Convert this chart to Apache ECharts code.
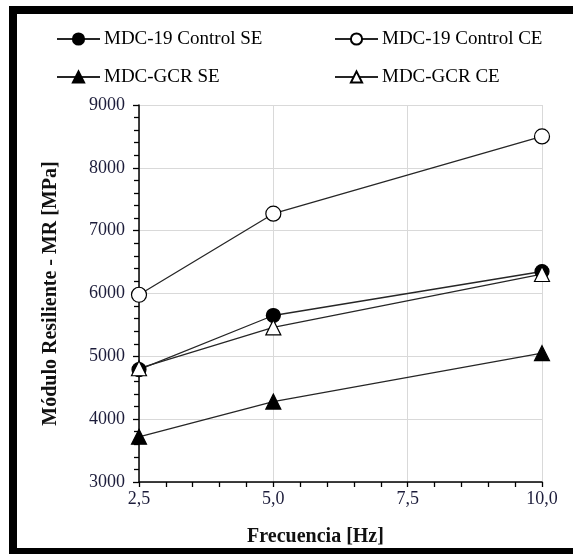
<!DOCTYPE html>
<html>
<head>
    <meta charset="utf-8">
    <title>Modulo resiliente vs frecuencia</title>
    <script src="https://cdn.jsdelivr.net/npm/echarts@6/dist/echarts.min.js"></script>
    <style>
        html, body { margin: 0; padding: 0; background: #fff; }
        #main { width: 573px; height: 554px; }
    </style>
</head>
<body>
<div id="main"></div>
<script>
    // datos
    var frecuencia = [2.5, 5.0, 10.0];
    var controlSE = [4790, 5650, 6350];
    var controlCE = [5980, 7270, 8500];
    var gcrSE = [3720, 4280, 5050];
    var gcrCE = [4810, 5460, 6310];

    var serif = 'Liberation Serif';

    function pares(vals) {
        return frecuencia.map(function (f, i) { return [f, vals[i]]; });
    }

    function serie(nombre, vals, simbolo, relleno, tam) {
        return {
            name: nombre,
            type: 'line',
            data: pares(vals),
            symbol: simbolo,
            symbolSize: tam,
            showAllSymbol: true,
            lineStyle: { color: '#262626', width: 1.3 },
            itemStyle: { color: relleno, borderColor: '#000', borderWidth: 1.2 },
            emphasis: { disabled: true },
            animation: false
        };
    }

    var chart = echarts.init(document.getElementById('main'));
    var option = {
        animation: false,
        grid: { left: 139, right: 31, top: 105, bottom: 72 },
        legend: [
            {
                data: ['MDC-19 Control SE', 'MDC-GCR SE'],
                orient: 'vertical',
                left: 56, top: 29, padding: 0,
                itemWidth: 43, itemHeight: 14, itemGap: 18,
                textStyle: { fontFamily: serif, fontSize: 19, color: '#000', lineHeight: 20, padding: [0, 0, 0, -1] }
            },
            {
                data: ['MDC-19 Control CE', 'MDC-GCR CE'],
                orient: 'vertical',
                left: 334, top: 29, padding: 0,
                itemWidth: 43, itemHeight: 14, itemGap: 18,
                textStyle: { fontFamily: serif, fontSize: 19, color: '#000', lineHeight: 20, padding: [0, 0, 0, -1] }
            }
        ],
        xAxis: {
            type: 'value',
            min: 2.5, max: 10, interval: 2.5,
            name: 'Frecuencia [Hz]',
            nameLocation: 'middle',
            nameGap: 45,
            nameTextStyle: { fontFamily: serif, fontSize: 20, fontWeight: 'bold', color: '#111', padding: [0, 50, 0, 0] },
            axisLine: { lineStyle: { color: '#000', width: 1.5 } },
            axisTick: { show: true, length: 5, inside: false, lineStyle: { color: '#000', width: 1.3 } },
            minorTick: { show: true, splitNumber: 5, length: 5, lineStyle: { color: '#000', width: 1.3 } },
            axisLabel: {
                fontFamily: serif, fontSize: 18, color: '#1c1c3a', margin: 8,
                formatter: function (v) { return v.toFixed(1).replace('.', ','); }
            },
            splitLine: { show: true, lineStyle: { color: '#d9d9d9', width: 1 } }
        },
        yAxis: {
            type: 'value',
            min: 3000, max: 9000, interval: 1000,
            name: 'Módulo Resiliente - MR [MPa]',
            nameLocation: 'middle',
            nameGap: 78,
            nameTextStyle: { fontFamily: serif, fontSize: 20, fontWeight: 'bold', color: '#111' },
            axisLine: { show: true, lineStyle: { color: '#000', width: 1.5 } },
            axisTick: { show: true, length: 6, lineStyle: { color: '#000', width: 1.3 } },
            minorTick: { show: true, splitNumber: 5, length: 5, lineStyle: { color: '#000', width: 1.3 } },
            axisLabel: {
                fontFamily: serif, fontSize: 18, color: '#1c1c3a', margin: 14,
                formatter: function (v) { return String(v); }
            },
            splitLine: { show: true, lineStyle: { color: '#d9d9d9', width: 1 } }
        },
        series: [
            serie('MDC-19 Control SE', controlSE, 'circle', '#000', 14),
            serie('MDC-19 Control CE', controlCE, 'circle', '#fff', 15),
            serie('MDC-GCR SE', gcrSE, 'triangle', '#000', 15),
            serie('MDC-GCR CE', gcrCE, 'triangle', '#fff', 15)
        ],
        graphic: [
            { type: 'rect', shape: { x: 9, y: 6, width: 570, height: 8 }, style: { fill: '#000' }, z: 100 },
            { type: 'rect', shape: { x: 9, y: 6, width: 8, height: 560 }, style: { fill: '#000' }, z: 100 },
            { type: 'rect', shape: { x: 9, y: 548, width: 570, height: 10 }, style: { fill: '#000' }, z: 100 }
        ]
    };
    chart.setOption(option);
</script>
</body>
</html>
